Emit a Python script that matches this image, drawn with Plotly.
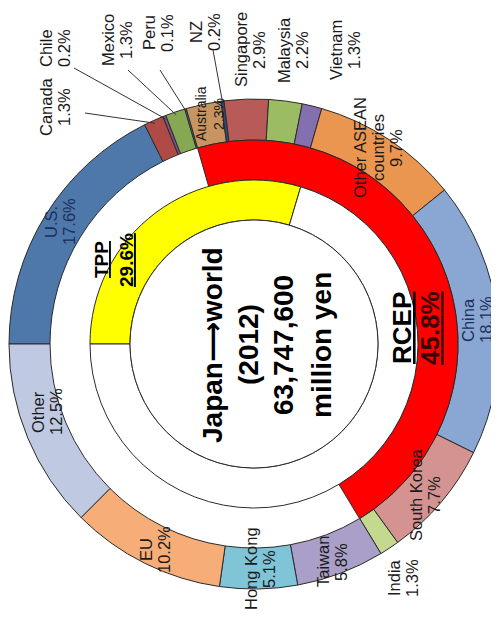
import math
import plotly.graph_objects as go

# ---------------- data ----------------
countries = ["U.S.", "Canada", "Chile", "Mexico", "Peru", "Australia", "NZ",
             "Singapore", "Malaysia", "Vietnam", "Other ASEAN countries", "China",
             "South Korea", "India", "Taiwan", "Hong Kong", "EU", "Other"]
shares = [17.6, 1.3, 0.2, 1.3, 0.1, 2.3, 0.2, 2.9, 2.2, 1.3, 9.7, 18.1,
          7.7, 1.3, 5.8, 5.1, 10.2, 12.5]
display_names = ["U.S.", "Canada", "Chile", "Mexico", "Peru", "Australia", "NZ",
                 "Singapore", "Malaysia", "Vietnam", "Other ASEAN<br>countries", "China",
                 "South Korea", "India", "Taiwan", "Hong Kong", "EU", "Other"]

blocs = ["RCEP", "non-RCEP"]
rcep_share = [45.8, 54.2]
tpp_blocs = ["TPP", "non-TPP"]
tpp_share = [29.6, 70.4]
rcep_first_member = "Australia"

center_lines = ["Japan\u27f6world", "(2012)", "63,747,600", "million yen"]

# ---------------- styling ----------------
colors = ["#4f78aa", "#b04a46", "#7a4f8f", "#86a852", "#3f7fa0", "#c8945f", "#2c4d75",
          "#b85a58", "#9cbc63", "#8470b0", "#eb9650", "#8aa6d2",
          "#d49290", "#c4d890", "#a99fc8", "#80c4d8", "#f6ad78", "#c0c9e2"]

W, H = 499, 617
OFF = 8                      # default body margin of the html page
CX, CY = 254, 344            # centre in screenshot pixels
R_OUT, R_OUT_IN = 245, 204
R_MID_IN = 164
R_IN_IN = 124
FONT = "Liberation Sans, Arial, DejaVu Sans, sans-serif"
LSP = 18                     # line spacing of the small labels

label_pos = {
    "U.S.": (60, 222), "Canada": (55, 107), "Chile": (55, 48), "Mexico": (117, 40),
    "Peru": (158, 33), "Australia": (210, 114), "NZ": (205, 32),
    "Singapore": (250, 50), "Malaysia": (293, 50), "Vietnam": (345, 50),
    "Other ASEAN countries": (378, 148), "China": (477, 320),
    "South Korea": (425, 495), "India": (403, 578), "Taiwan": (332, 562),
    "Hong Kong": (260, 569), "EU": (155, 550), "Other": (47, 412),
}
leader_start = {"Canada": (85, 113), "Chile": (74, 68), "Mexico": (128, 70),
                "Peru": (160, 70), "NZ": (213, 50)}
label_font = {"Australia": 14}
label_color = {"U.S.": "#1c2f5a", "China": "#1c2f5a"}


def px(x, y):
    return (x - OFF) / W, 1 - (y - OFF) / H


def dom(r):
    cx, cy = CX - OFF, H - (CY - OFF)
    return dict(x=[max(0, (cx - r) / W), min(1, (cx + r) / W)],
                y=[max(0, (cy - r) / H), min(1, (cy + r) / H)])


total = sum(shares)
start_rot = 270

fig = go.Figure()

fig.add_trace(go.Pie(
    values=shares, labels=countries, sort=False, direction="clockwise",
    rotation=start_rot, hole=R_OUT_IN / R_OUT, domain=dom(R_OUT),
    marker=dict(colors=colors, line=dict(color="#2b2b2b", width=1)),
    textinfo="none", showlegend=False, hoverinfo="label+value"))

rcep_idx = countries.index(rcep_first_member)
rcep_rot = start_rot + 360 * sum(shares[:rcep_idx]) / total
fig.add_trace(go.Pie(
    values=rcep_share, labels=blocs, sort=False, direction="clockwise",
    rotation=rcep_rot - 360, hole=R_MID_IN / R_OUT_IN, domain=dom(R_OUT_IN),
    marker=dict(colors=["#ff0000", "rgba(255,255,255,0)"],
                line=dict(color=["#2b2b2b", "rgba(0,0,0,0)"], width=1)),
    textinfo="none", showlegend=False, hoverinfo="label+value"))

fig.add_trace(go.Pie(
    values=tpp_share, labels=tpp_blocs, sort=False, direction="clockwise",
    rotation=start_rot, hole=R_IN_IN / R_MID_IN, domain=dom(R_MID_IN),
    marker=dict(colors=["#ffff00", "#ffffff"], line=dict(color="#2b2b2b", width=1)),
    textinfo="none", showlegend=False, hoverinfo="label+value"))

shapes = []
x0, y0 = px(CX - R_IN_IN, CY + R_IN_IN)
x1, y1 = px(CX + R_IN_IN, CY - R_IN_IN)
shapes.append(dict(type="circle", xref="paper", yref="paper", x0=x0, y0=y0, x1=x1, y1=y1,
                   line=dict(color="#2b2b2b", width=1), fillcolor="white", layer="above"))

annotations = []


def vtext(x, y, text, size, color="#1a1a1a"):
    ax_, ay_ = px(x, y)
    annotations.append(dict(x=ax_, y=ay_, xref="paper", yref="paper", text=text,
                            showarrow=False, textangle=-90, xanchor="center",
                            yanchor="middle",
                            font=dict(family=FONT, size=size, color=color)))


cum = 0.0
for name, disp, s in zip(countries, display_names, shares):
    mid = cum + s / 2
    cum += s
    lx, ly = label_pos[name]
    lines = disp.split("<br>") + [f"{s}%"]
    n = len(lines)
    for i, t in enumerate(lines):
        vtext(lx + (i - (n - 1) / 2) * LSP, ly, t, label_font.get(name, 16.5),
              label_color.get(name, "#1a1a1a"))
    if name in leader_start:
        a = math.radians(start_rot + 360 * mid / total)
        ex, ey = CX + (R_OUT - 3) * math.sin(a), CY - (R_OUT - 3) * math.cos(a)
        sx, sy = leader_start[name]
        p0 = px(sx, sy)
        p1 = px(ex, ey)
        shapes.append(dict(type="line", xref="paper", yref="paper",
                           x0=p0[0], y0=p0[1], x1=p1[0], y1=p1[1],
                           line=dict(color="#333333", width=1), layer="above"))

# centre text
for xc, t in zip([212, 248, 283, 321], center_lines):
    vtext(xc, 345, f"<b>{t}</b>", 28, "black")

# TPP label
vtext(102, 260, f"<b><u>{tpp_blocs[0]}</u></b>", 19, "black")
vtext(127, 260, f"<b><u>{tpp_share[0]}%</u></b>", 19, "black")

# RCEP label
vtext(402, 328, f"<b><u>{blocs[0]}</u></b>", 26, "black")
vtext(430, 328, f"<b><u>{rcep_share[0]}%</u></b>", 26, "#3a0000")

fig.update_layout(width=W, height=H, margin=dict(l=0, r=0, t=0, b=0),
                  paper_bgcolor="white", plot_bgcolor="white",
                  shapes=shapes, annotations=annotations, showlegend=False)

fig.write_html("out.html")
